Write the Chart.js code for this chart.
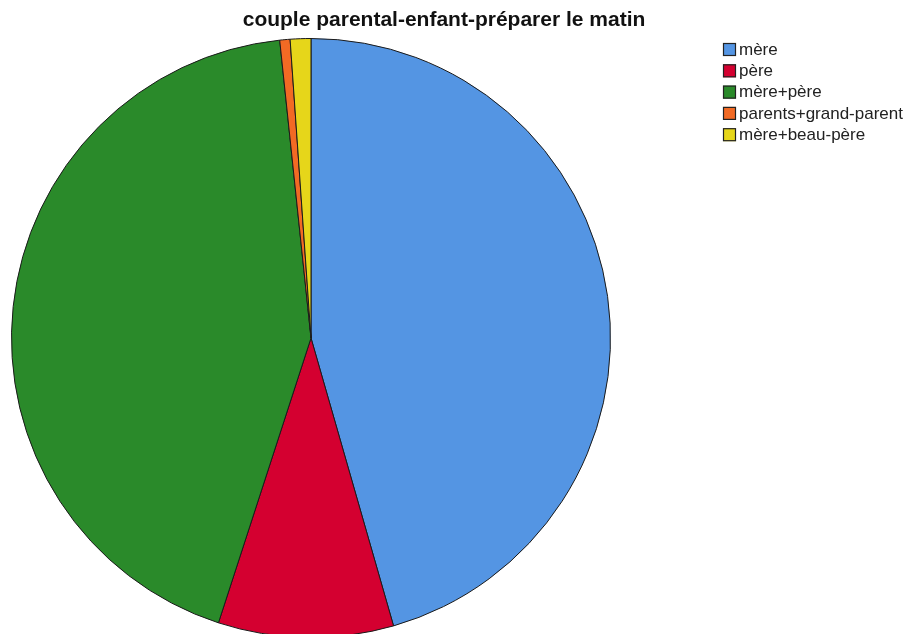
<!DOCTYPE html>
<html>
<head>
<meta charset="utf-8">
<script src="https://cdn.jsdelivr.net/npm/chart.js@4.4.0/dist/chart.umd.min.js"></script>
<style>
  html, body { margin: 0; padding: 0; background: #fff; overflow: hidden; }
  #wrap { position: absolute; left: 0; top: 0; width: 907px; height: 640px; }
</style>
</head>
<body>
<div id="wrap"><canvas id="camembert"></canvas></div>
<script>
// données (effectifs)
const categories = ['mère', 'père', 'mère+père', 'parents+grand-parent', 'mère+beau-père'];
const effectifs = [82, 17, 78, 1, 2];
const couleurs = ['#5495E3', '#D40030', '#2A8A2A', '#F26A24', '#E6D61A'];
const titre = 'couple parental-enfant-préparer le matin';

// titre centré sur toute la page
const pluginTitre = {
    id: 'titreSpss',
    afterDraw(chart) {
        const ctx = chart.ctx;
        ctx.save();
        ctx.font = 'bold 21px "Liberation Sans", Arial, sans-serif';
        ctx.fillStyle = '#111';
        ctx.textAlign = 'center';
        ctx.textBaseline = 'middle';
        ctx.fillText(titre, 444, 20);
        ctx.restore();
    }
};

// légende en haut à droite, comme dans la sortie SPSS
const pluginLegende = {
    id: 'legendeSpss',
    afterDraw(chart) {
        const ctx = chart.ctx;
        const ds = chart.data.datasets[0];
        ctx.save();
        ctx.font = '17px "Liberation Sans", Arial, sans-serif';
        ctx.textBaseline = 'middle';
        chart.data.labels.forEach((lab, i) => {
            const y = 43 + i * 21.3;
            ctx.fillStyle = ds.backgroundColor[i];
            ctx.fillRect(723, y, 13, 13);
            ctx.strokeStyle = '#222';
            ctx.lineWidth = 1.2;
            ctx.strokeRect(723.5, y + 0.5, 12, 12);
            ctx.fillStyle = '#222';
            ctx.fillText(lab, 739, y + 7);
        });
        ctx.restore();
    }
};

const ctx = document.getElementById('camembert').getContext('2d');
new Chart(ctx, {
    type: 'pie',
    data: {
        labels: categories,
        datasets: [{
            data: effectifs,
            backgroundColor: couleurs,
            borderColor: '#1a1a1a',
            borderWidth: 1
        }]
    },
    options: {
        responsive: true,
        maintainAspectRatio: false,
        animation: false,
        layout: {
            padding: { left: 11, right: 296, top: 38, bottom: 2 }
        },
        plugins: {
            legend: { display: false },
            tooltip: { enabled: false },
            title: { display: false }
        }
    },
    plugins: [pluginTitre, pluginLegende]
});
</script>
</body>
</html>
